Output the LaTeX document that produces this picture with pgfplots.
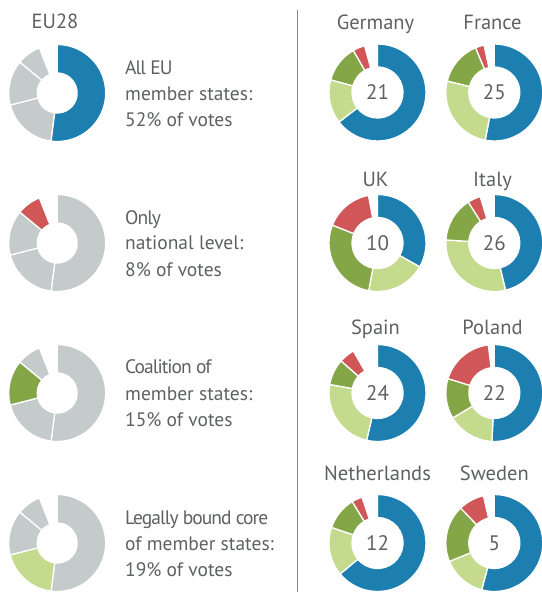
\documentclass[border=0pt]{standalone}
\usepackage{fontspec}
\setmainfont{PT Sans}
\newfontfamily\tightfont[LetterSpace=-5]{PT Sans}
\usepackage{pgfplots}
\pgfplotsset{compat=1.18}

\definecolor{cBlue}{HTML}{1D7FB0}
\definecolor{cLG}{HTML}{C4DA8C}
\definecolor{cDG}{HTML}{84A647}
\definecolor{cRed}{HTML}{D05658}
\definecolor{cGray}{HTML}{C5CACA}
\definecolor{cText}{HTML}{5E6062}
\definecolor{cLine}{HTML}{8C8C8C}

% annular sector mark: a, b = cumulative percent (clockwise from 12 o'clock), ri = inner radius
\pgfdeclareplotmark{donutseg}{%
  \pgfmathsetmacro\sA{90-3.6*\pa}%
  \pgfmathsetmacro\sB{90-3.6*\pb}%
  \pgfmathsetmacro\rI{\pri}%
  \pgfpathmoveto{\pgfpointpolar{\sA}{48.5bp}}%
  \pgfpatharc{\sA}{\sB}{48.5bp}%
  \pgfpathlineto{\pgfpointpolar{\sB}{\rI bp}}%
  \pgfpatharc{\sB}{\sA}{\rI bp}%
  \pgfpathclose
  \pgfusepathqfillstroke}

\pgfplotsset{donut/.style={scatter, only marks, mark=donutseg,
  mark options={line width=1.3bp},
  scatter/use mapped color={draw=white, fill=#1},
  visualization depends on={\thisrow{a}\as\pa},
  visualization depends on={\thisrow{b}\as\pb},
  visualization depends on={\thisrow{ri}\as\pri}}}

\begin{document}
\begin{tikzpicture}
\useasboundingbox (0,0) rectangle (542bp,592bp);
\begin{axis}[
  at={(0,0)}, anchor=south west,
  width=542bp, height=592bp, scale only axis,
  xmin=0, xmax=542, ymin=0, ymax=592, y dir=reverse,
  hide axis, clip=false]

\addplot[cLine, line width=1.2bp] coordinates {(297.7,10) (297.7,592)};

% columns: centre x, centre y (pixels, y downwards), start %, end %, inner radius
\addplot[donut=cGray] table[x=cx, y=cy] {
cx cy a b ri
57.2 93 52 71 20
57.2 93 71 86 20
57.2 93 86 94 20
57.2 243 0 52 20
57.2 243 52 71 20
57.2 243 71 86 20
57.2 393 0 52 20
57.2 393 52 71 20
57.2 393 86 94 20
57.2 543 0 52 20
57.2 543 71 86 20
57.2 543 86 94 20
};
\addplot[donut=cBlue] table[x=cx, y=cy] {
cx cy a b ri
57.2 93 0 52 20
377.5 92.5 0 64.6 25.5
494.3 92.5 0 53 25.5
377.5 243 0 33.2 25.5
494.3 243 0 46.3 25.5
377.5 393 0 53.6 25.5
494.3 393 0 50.8 25.5
377.5 543 0 64 25.5
494.3 543 0 54.2 25.5
};
\addplot[donut=cLG] table[x=cx, y=cy] {
cx cy a b ri
57.2 543 52 71 20
377.5 92.5 64.6 79.2 25.5
494.3 92.5 53 78.8 25.5
377.5 243 33.2 52.9 25.5
494.3 243 46.3 76 25.5
377.5 393 53.6 77.8 25.5
494.3 393 50.8 66.4 25.5
377.5 543 64 80.2 25.5
494.3 543 54.2 68.8 25.5
};
\addplot[donut=cDG] table[x=cx, y=cy] {
cx cy a b ri
57.2 393 71 86 20
377.5 92.5 79.2 91.7 25.5
494.3 92.5 78.8 93.7 25.5
377.5 243 52.9 81 25.5
494.3 243 76 91 25.5
377.5 393 77.8 86.5 25.5
494.3 393 66.4 79.8 25.5
377.5 543 80.2 91.3 25.5
494.3 543 68.8 87.8 25.5
};
\addplot[donut=cRed] table[x=cx, y=cy] {
cx cy a b ri
57.2 243 86 94 20
377.5 92.5 91.7 95.7 25.5
494.3 92.5 93.7 96.6 25.5
377.5 243 81 97 25.5
494.3 243 91 95.3 25.5
377.5 393 86.5 91.7 25.5
494.3 393 79.8 98 25.5
377.5 543 91.3 94.8 25.5
494.3 543 87.8 96.4 25.5
};

\tikzset{ttl/.style={anchor=base, inner sep=0pt, text=cText, font=\fontsize{20.5bp}{24bp}\selectfont},
         num/.style={anchor=center, inner sep=0pt, text=cText, font=\fontsize{21bp}{24bp}\selectfont},
         lbl/.style={anchor=base west, inner sep=0pt, text=cText, font=\fontsize{19.5bp}{23bp}\selectfont},
         lblt/.style={anchor=base west, inner sep=0pt, text=cText, font=\tightfont\fontsize{19.5bp}{23bp}\selectfont}}

\node[ttl] at (axis cs:55,29) {EU28};
\node[lblt] at (axis cs:125,75) {All EU};
\node[lbl] at (axis cs:125,100) {member states:};
\node[lbl] at (axis cs:125,126) {52\% of votes};
\node[lblt] at (axis cs:125,224) {Only};
\node[lbl] at (axis cs:125,249.5) {national level:};
\node[lbl] at (axis cs:125,276) {8\% of votes};
\node[lblt] at (axis cs:125,373.5) {Coalition of};
\node[lbl] at (axis cs:125,400) {member states:};
\node[lbl] at (axis cs:125,426.5) {15\% of votes};
\node[lblt] at (axis cs:125,524) {Legally bound core};
\node[lbl] at (axis cs:125,550) {of member states:};
\node[lbl] at (axis cs:125,576.5) {19\% of votes};

\node[ttl] at (axis cs:375.5,30) {Germany};
\node[ttl] at (axis cs:492.5,30) {France};
\node[ttl] at (axis cs:375.5,186.7) {UK};
\node[ttl] at (axis cs:492.5,186.7) {Italy};
\node[ttl] at (axis cs:375.5,334) {Spain};
\node[ttl] at (axis cs:492.5,334) {Poland};
\node[ttl] at (axis cs:377.5,480) {Netherlands};
\node[ttl] at (axis cs:494.3,480) {Sweden};

\node[num] at (axis cs:377.5,92.5) {21};
\node[num] at (axis cs:494.3,92.5) {25};
\node[num] at (axis cs:377.5,243) {10};
\node[num] at (axis cs:494.3,243) {26};
\node[num] at (axis cs:377.5,393) {24};
\node[num] at (axis cs:494.3,393) {22};
\node[num] at (axis cs:377.5,543) {12};
\node[num] at (axis cs:494.3,543) {5};
\end{axis}
\end{tikzpicture}
\end{document}
